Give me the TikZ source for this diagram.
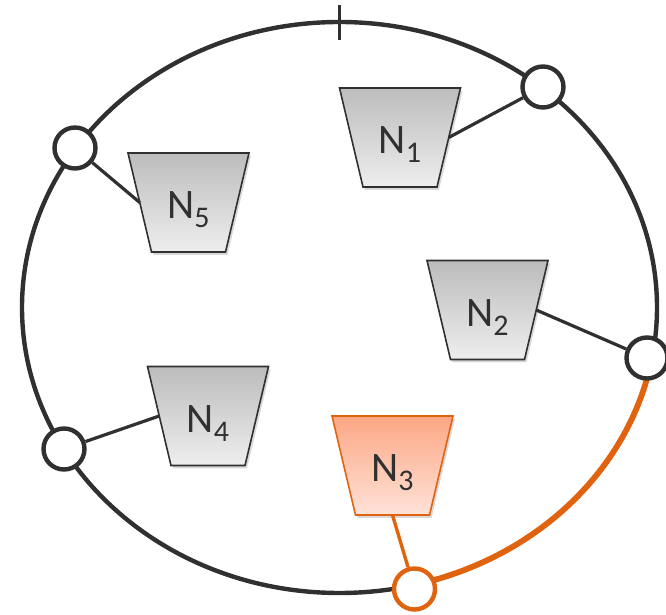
\documentclass[tikz,border=0pt]{standalone}
\usepackage{fontspec}
\setmainfont{Carlito}
\usetikzlibrary{shadows}
\definecolor{ringc}{HTML}{303030}
\definecolor{orng}{HTML}{E0640F}
\definecolor{gtop}{HTML}{BCBCBC}
\definecolor{gbot}{HTML}{EEEEEE}
\definecolor{otop}{HTML}{FCA784}
\definecolor{obot}{HTML}{FFE2D8}
\newcommand{\nlab}[1]{N\raisebox{-9pt}{\fontsize{30}{30}\selectfont #1}}
\newcommand{\srvshape}[2]{%
  \path[#2] (#1.north west) -- (#1.north east) -- ([xshift=-23.5pt]#1.south east)
     -- ([xshift=23.5pt]#1.south west) -- cycle;}
\tikzset{
  ringline/.style={draw=ringc, line width=4.4pt},
  port/.style={circle, draw=ringc, fill=white, line width=4.4pt, minimum size=41pt, inner sep=0pt},
  oport/.style={port, draw=orng},
  box/.style={rectangle, minimum width=121pt, minimum height=99pt, inner sep=0pt, outer sep=0pt},
  srv/.style={draw=ringc, line width=1.6pt, top color=gtop, bottom color=gbot,
    drop shadow={shadow xshift=2pt, shadow yshift=-3pt, opacity=0.3}},
  osrv/.style={srv, draw=orng, top color=otop, bottom color=obot},
  lab/.style={text=ringc, font=\fontsize{42}{42}\selectfont, inner sep=0pt},
  link/.style={draw=ringc, line width=3.2pt},
  olink/.style={draw=orng, line width=3.4pt}
}
\begin{document}
\begin{tikzpicture}[x=1pt,y=1pt]
\useasboundingbox (0,0) rectangle (666,615);
\coordinate (c) at (339.5,307.5);
\coordinate (tka) at (339.5,610);
\coordinate (tkb) at (339.5,575);
% ring
\draw[ringline] (c) ellipse [x radius=317.5, y radius=285.5];
\draw[draw=orng, line width=5.8pt] (c) ++(-10.2:317.5 and 285.5)
   arc[start angle=-10.2, end angle=-76.5, x radius=317.5, y radius=285.5];
\draw[draw=ringc, line width=3.4pt] (tka) -- (tkb);
% servers
\node[box] (N1) at (400,477.5) {};
\node[box] (N5) at (188.5,412.5) {};
\node[box] (N2) at (487.5,305) {};
\node[box] (N4) at (208,199) {};
\node[box] (N3) at (392.5,149.5) {};
\srvshape{N1}{srv}
\srvshape{N5}{srv}
\srvshape{N2}{srv}
\srvshape{N4}{srv}
\srvshape{N3}{osrv}
\node[lab] (t1) at ([yshift=-7.5pt]N1.center) {\nlab{1}};
\node[lab] (t5) at ([yshift=-7.5pt]N5.center) {\nlab{5}};
\node[lab] (t2) at ([yshift=-7.5pt]N2.center) {\nlab{2}};
\node[lab] (t4) at ([yshift=-7.5pt]N4.center) {\nlab{4}};
\node[lab] (t3) at ([yshift=-7.5pt]N3.center) {\nlab{3}};
% ports
\node[port] (c1) at (543,528) {};
\node[port] (c5) at (75,467) {};
\node[port] (c2) at (647,257) {};
\node[port] (c4) at (64,166) {};
\node[oport] (c3) at (414.5,26) {};
% links
\draw[link] ([xshift=-11.75pt]N1.east) -- (c1);
\draw[link] ([xshift=11.75pt]N5.west) -- (c5);
\draw[link] ([xshift=-11.75pt]N2.east) -- (c2);
\draw[link] ([xshift=11.75pt]N4.west) -- (c4);
\draw[olink] (N3.south) -- (c3);
\end{tikzpicture}
\end{document}
